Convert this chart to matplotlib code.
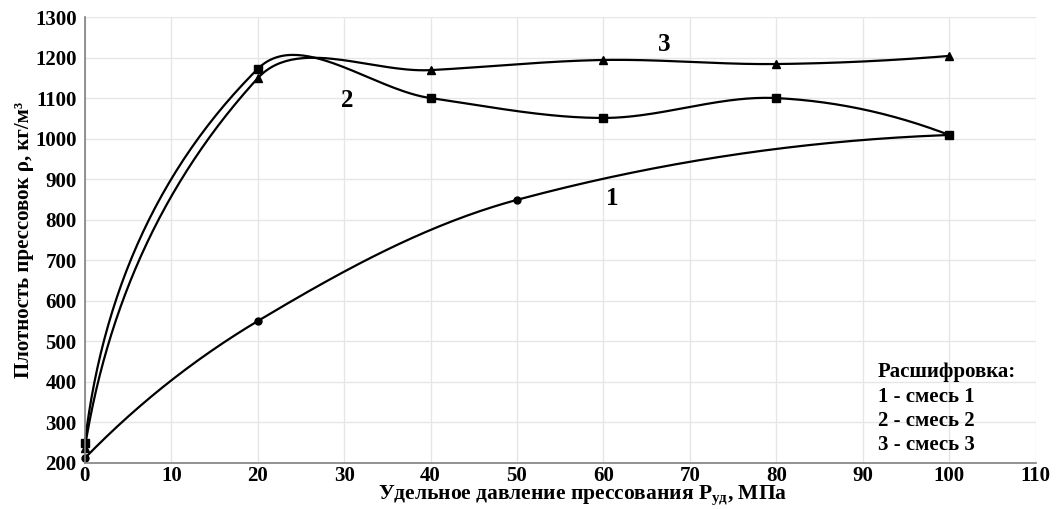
import numpy as np
import matplotlib
matplotlib.use("Agg")
import matplotlib.pyplot as plt

plt.rcParams['font.family'] = ['Liberation Serif', 'DejaVu Serif']
plt.rcParams['font.weight'] = 'bold'
plt.rcParams['axes.labelweight'] = 'bold'
plt.rcParams['mathtext.fontset'] = 'custom'
plt.rcParams['mathtext.rm'] = 'Liberation Serif:bold'

# measured points: pressure (MPa) vs density (kg/m3)
p1 = [0, 20, 50, 100]
rho1 = [212, 550, 849, 1009]
p2 = [0, 20, 40, 60, 80, 100]
rho2 = [250, 1172, 1100, 1051, 1100, 1009]
p3 = [0, 20, 40, 60, 80, 100]
rho3 = [238, 1149, 1169, 1194, 1184, 1204]

curve_labels = ['1', '2', '3']
legend_title = 'Расшифровка:'
legend_lines = ['1 - смесь 1', '2 - смесь 2', '3 - смесь 3']


def smooth_pixels(P, n=60):
    # chord-length bezier smoothing through points given in pixel space
    P = np.asarray(P, float)
    m = len(P)
    cout = np.zeros_like(P)
    cin = np.zeros_like(P)
    for i in range(1, m - 1):
        d = P[i + 1] - P[i - 1]
        d = d / np.linalg.norm(d)
        cin[i] = P[i] - d * np.linalg.norm(P[i] - P[i - 1]) / 3
        cout[i] = P[i] + d * np.linalg.norm(P[i + 1] - P[i]) / 3
    # end segments treated as quadratics
    q = P[1] + 1.5 * (cin[1] - P[1])
    cout[0] = P[0] + 2 / 3 * (q - P[0])
    q = P[-2] + 1.5 * (cout[-2] - P[-2])
    cin[-1] = P[-1] + 2 / 3 * (q - P[-1])
    t = np.linspace(0, 1, n)[:, None]
    out = []
    for i in range(m - 1):
        a, b, c, d = P[i], cout[i], cin[i + 1], P[i + 1]
        seg = ((1 - t) ** 3) * a + 3 * ((1 - t) ** 2) * t * b + 3 * (1 - t) * t ** 2 * c + t ** 3 * d
        out.append(seg if i == 0 else seg[1:])
    return np.vstack(out)


fig = plt.figure(figsize=(10.61, 5.09), dpi=100)
ax = fig.add_axes([0.080, 0.0904, 0.896, 0.8762])
ax.set_xlim(0, 110)
ax.set_ylim(200, 1300)
ax.set_xticks(np.arange(0, 111, 10))
ax.set_yticks(np.arange(200, 1301, 100))
ax.grid(True, color='#e6e6e6', linewidth=1.0)
ax.set_axisbelow(True)
for s in ['top', 'right']:
    ax.spines[s].set_visible(False)
for s in ['left', 'bottom']:
    ax.spines[s].set_color('#808080')
    ax.spines[s].set_linewidth(1.2)
ax.tick_params(axis='x', length=0, labelsize=15, pad=2)
ax.tick_params(axis='y', length=0, labelsize=15, pad=6)

tr = ax.transData
for px, py, mk, ms in [(p1, rho1, 'o', 5), (p2, rho2, 's', 6), (p3, rho3, '^', 6)]:
    pts = tr.transform(np.column_stack([px, py]))
    curve = tr.inverted().transform(smooth_pixels(pts))
    ax.plot(curve[:, 0], curve[:, 1], color='black', linewidth=1.6, clip_on=False)
    ax.plot(px, py, linestyle='none', marker=mk, markersize=ms, color='black', clip_on=False)

ax.text(61, 853, curve_labels[0], fontsize=18, ha='center', va='center')
ax.text(30.4, 1095, curve_labels[1], fontsize=18, ha='center', va='center')
ax.text(67, 1232, curve_labels[2], fontsize=18, ha='center', va='center')

ax.text(0.834, 0.204, legend_title, transform=ax.transAxes, fontsize=15, va='center')
for k, line in enumerate(legend_lines):
    ax.text(0.834, 0.149 - k * 0.054, line, transform=ax.transAxes, fontsize=15, va='center')

ax.set_xlabel('Удельное давление прессования P$_{\\mathregular{уд}}$, МПа', fontsize=15.5)
ax.xaxis.set_label_coords(0.524, -0.047)
ax.set_ylabel('Плотность прессовок ρ, кг/м³', fontsize=15, labelpad=1)

fig.savefig('out.png', dpi=100)
